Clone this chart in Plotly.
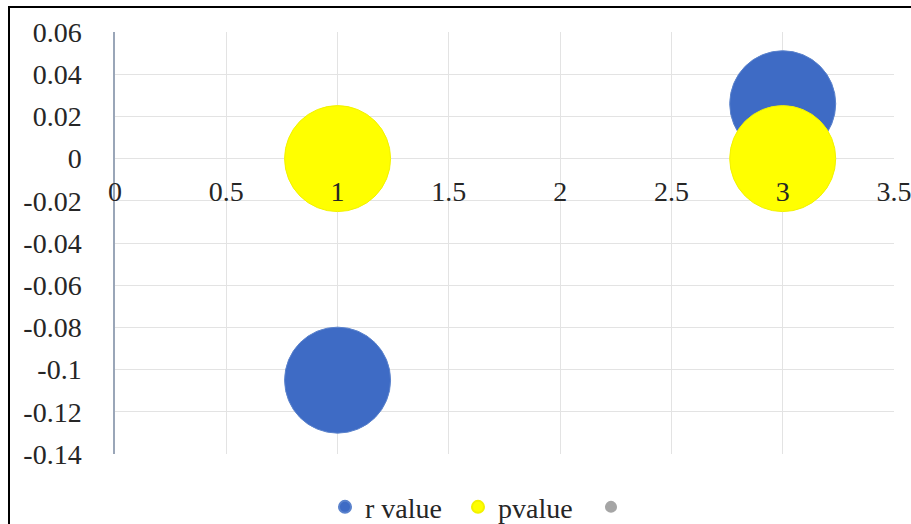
import plotly.graph_objects as go

# Bubble data: two series sampled at x = 1 and x = 3
x_vals = [1, 3]
r_value = [-0.105, 0.026]
p_value = [0.0, 0.0]
bubble_diam = [106, 106]

x_ticks = [0, 0.5, 1, 1.5, 2, 2.5, 3, 3.5]
x_tick_text = ["0", "0.5", "1", "1.5", "2", "2.5", "3", "3.5"]
y_ticks = [0.06, 0.04, 0.02, 0, -0.02, -0.04, -0.06, -0.08, -0.1, -0.12, -0.14]
y_tick_text = ["0.06", "0.04", "0.02", "0", "-0.02", "-0.04", "-0.06", "-0.08", "-0.1", "-0.12", "-0.14"]

FONT = "Liberation Serif"
TEXT = "#262626"
FS = 28

fig = go.Figure()
fig.add_trace(go.Scatter(
    x=x_vals, y=r_value, mode="markers", name="r value",
    marker=dict(size=bubble_diam, sizemode="diameter", color="#3e6bc5", opacity=1,
                line=dict(color="#5a82cc", width=1)),
))
fig.add_trace(go.Scatter(
    x=x_vals, y=p_value, mode="markers", name="pvalue",
    marker=dict(size=bubble_diam, sizemode="diameter", color="#ffff00", opacity=1,
                line=dict(color="#f2f200", width=1)),
))
# Third, empty series (shows only as a gray legend key)
fig.add_trace(go.Scatter(
    x=[None], y=[None], mode="markers", name=" ",
    marker=dict(size=12, color="#a5a5a5"),
))

fig.update_layout(
    width=911, height=524,
    margin=dict(l=115, r=17, t=32, b=70, autoexpand=False),
    paper_bgcolor="white", plot_bgcolor="white",
    font=dict(family=FONT, size=FS, color=TEXT),
    showlegend=True,
    legend=dict(orientation="h", x=(325 - 115) / 779, xanchor="left", y=-0.126, yanchor="middle",
                itemsizing="constant", font=dict(family=FONT, size=FS, color=TEXT),
                bgcolor="rgba(0,0,0,0)", traceorder="normal", itemwidth=30,
                entrywidth=88, entrywidthmode="pixels"),
    xaxis=dict(
        range=[0, 3.5], tickvals=x_ticks, ticktext=x_tick_text,
        showgrid=True, gridcolor="#e3e3e3", gridwidth=1,
        zeroline=False, showline=False, ticks="", automargin=False,
        anchor="free", position=0.7, ticklabelstandoff=13,
        ticklabeloverflow="allow",
        tickfont=dict(family=FONT, size=FS, color=TEXT),
    ),
    yaxis=dict(
        range=[-0.14, 0.06], tickvals=y_ticks, ticktext=y_tick_text,
        showgrid=True, gridcolor="#e3e3e3", gridwidth=1,
        zeroline=False, showline=True, linecolor="#9aa6b8", linewidth=1.5,
        ticks="", ticklabelstandoff=26, automargin=False,
        tickfont=dict(family=FONT, size=FS, color=TEXT),
    ),
    shapes=[dict(type="rect", xref="paper", yref="paper",
                 x0=(9 - 115) / 779, x1=1.1, y0=-0.3, y1=(454 - 7) / 422,
                 line=dict(color="black", width=2), layer="below")],
)

fig.write_html("out.html")
